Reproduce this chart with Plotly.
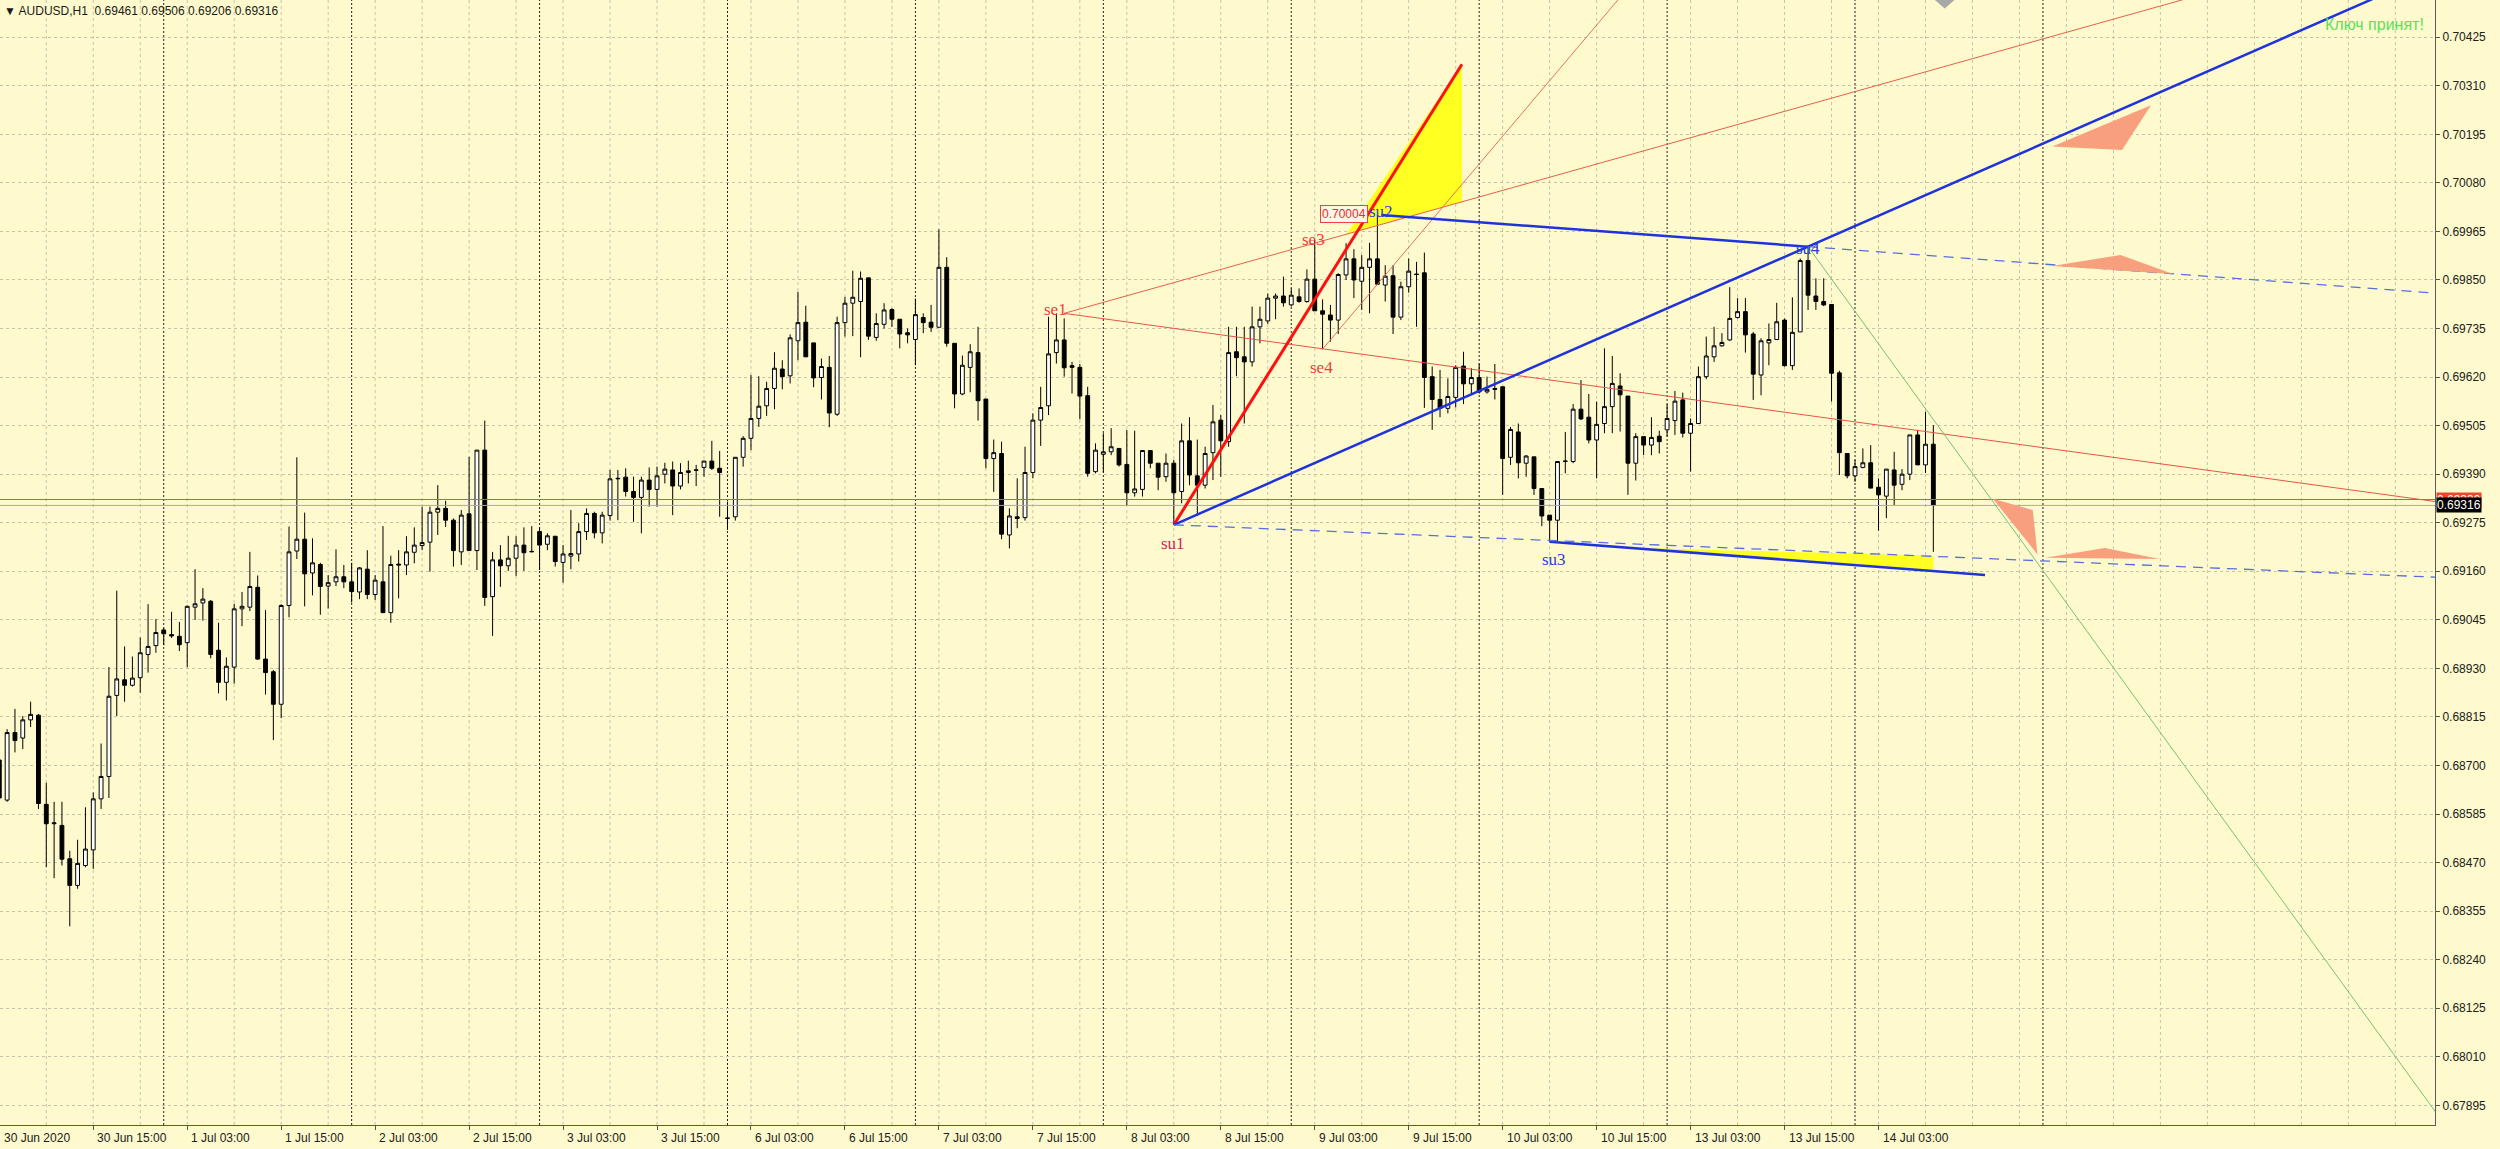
import plotly.graph_objects as go

# ---------------- data (AUDUSD H1, bar index 0 = 30 Jun 2020 03:00) ----------------
open_ = [
0.68713,0.68618,0.68778,0.68765,0.68808,0.68819,0.68608,0.68562,0.68558,0.68479,
0.68416,0.68463,0.68500,0.68621,0.68674,0.68866,0.68903,0.68890,0.68908,0.68963,
0.68984,0.69021,0.69010,0.69006,0.68991,0.69075,0.69085,0.69089,0.68973,0.68897,
0.68933,0.69071,0.69075,0.69122,0.68952,0.68922,0.68845,0.69079,0.69208,0.69236,
0.69156,0.69176,0.69125,0.69135,0.69147,0.69135,0.69111,0.69165,0.69105,0.69135,
0.69062,0.69177,0.69175,0.69205,0.69221,0.69229,0.69300,0.69309,0.69281,0.69206,
0.69296,0.69209,0.69447,0.69100,0.69187,0.69173,0.69191,0.69222,0.69206,0.69254,
0.69224,0.69243,0.69181,0.69196,0.69201,0.69254,0.69297,0.69251,0.69292,0.69379,
0.69383,0.69349,0.69335,0.69376,0.69354,0.69390,0.69400,0.69362,0.69394,0.69399,
0.69406,0.69421,0.69404,0.69285,0.69289,0.69430,0.69475,0.69522,0.69552,0.69593,
0.69639,0.69623,0.69706,0.69750,0.69701,0.69619,0.69643,0.69532,0.69749,0.69795,
0.69799,0.69855,0.69714,0.69745,0.69780,0.69757,0.69725,0.69709,0.69761,0.69750,
0.69738,0.69880,0.69700,0.69580,0.69643,0.69678,0.69568,0.69427,0.69439,0.69246,
0.69289,0.69287,0.69394,0.69518,0.69552,0.69678,0.69708,0.69647,0.69643,0.69576,
0.69396,0.69437,0.69443,0.69451,0.69413,0.69346,0.69354,0.69446,0.69416,0.69384,
0.69416,0.69349,0.69469,0.69386,0.69364,0.69441,0.69518,0.69467,0.69680,0.69668,
0.69656,0.69739,0.69753,0.69807,0.69812,0.69791,0.69810,0.69799,0.69852,0.69777,
0.69767,0.69755,0.69862,0.69900,0.69847,0.69880,0.69900,0.69838,0.69860,0.69762,
0.69834,0.69864,0.69867,0.69621,0.69567,0.69546,0.69572,0.69646,0.69604,0.69619,
0.69585,0.69593,0.69597,0.69430,0.69490,0.69416,0.69431,0.69356,0.69293,0.69281,
0.69420,0.69420,0.69544,0.69525,0.69471,0.69510,0.69550,0.69599,0.69575,0.69416,
0.69479,0.69459,0.69480,0.69495,0.69517,0.69566,0.69487,0.69510,0.69621,0.69668,
0.69694,0.69708,0.69761,0.69775,0.69722,0.69625,0.69701,0.69709,0.69755,0.69647,
0.69727,0.69896,0.69812,0.69799,0.69792,0.69630,0.69439,0.69386,0.69406,0.69417,
0.69359,0.69338,0.69400,0.69366,0.69390,0.69483,0.69412,0.69461]
high = [
0.68748,0.68786,0.68834,0.68817,0.68851,0.68822,0.68659,0.68614,0.68614,0.68498,
0.68524,0.68601,0.68636,0.68752,0.68933,0.69114,0.68982,0.68958,0.69003,0.69082,
0.69047,0.69026,0.69064,0.69040,0.69079,0.69165,0.69120,0.69092,0.69038,0.68956,
0.69083,0.69111,0.69206,0.69150,0.69068,0.68926,0.69082,0.69266,0.69430,0.69299,
0.69238,0.69180,0.69151,0.69212,0.69175,0.69180,0.69170,0.69210,0.69151,0.69267,
0.69197,0.69210,0.69243,0.69264,0.69313,0.69313,0.69364,0.69327,0.69285,0.69305,
0.69431,0.69447,0.69517,0.69206,0.69222,0.69244,0.69243,0.69264,0.69267,0.69264,
0.69250,0.69243,0.69222,0.69305,0.69274,0.69309,0.69301,0.69301,0.69400,0.69400,
0.69404,0.69384,0.69384,0.69406,0.69408,0.69417,0.69420,0.69416,0.69422,0.69412,
0.69422,0.69469,0.69445,0.69325,0.69430,0.69480,0.69625,0.69622,0.69609,0.69679,
0.69660,0.69721,0.69822,0.69789,0.69701,0.69664,0.69670,0.69763,0.69810,0.69872,
0.69870,0.69855,0.69771,0.69795,0.69783,0.69757,0.69735,0.69806,0.69771,0.69791,
0.69970,0.69904,0.69700,0.69671,0.69698,0.69739,0.69568,0.69472,0.69467,0.69309,
0.69380,0.69455,0.69534,0.69597,0.69763,0.69771,0.69759,0.69656,0.69651,0.69597,
0.69463,0.69487,0.69499,0.69451,0.69495,0.69493,0.69447,0.69447,0.69416,0.69439,
0.69424,0.69510,0.69525,0.69472,0.69455,0.69554,0.69530,0.69739,0.69739,0.69739,
0.69787,0.69787,0.69818,0.69818,0.69858,0.69830,0.69830,0.69875,0.69945,0.69804,
0.69791,0.69866,0.69937,0.69923,0.69909,0.69938,0.70004,0.69885,0.69885,0.69846,
0.69901,0.69893,0.69915,0.69645,0.69637,0.69617,0.69648,0.69680,0.69641,0.69652,
0.69621,0.69651,0.69597,0.69502,0.69510,0.69435,0.69431,0.69356,0.69293,0.69420,
0.69490,0.69556,0.69613,0.69580,0.69562,0.69688,0.69670,0.69629,0.69575,0.69487,
0.69479,0.69525,0.69493,0.69556,0.69587,0.69583,0.69522,0.69645,0.69716,0.69739,
0.69724,0.69833,0.69807,0.69807,0.69727,0.69712,0.69747,0.69796,0.69759,0.69809,
0.69901,0.69929,0.69854,0.69854,0.69792,0.69635,0.69439,0.69424,0.69451,0.69459,
0.69380,0.69402,0.69443,0.69402,0.69483,0.69495,0.69538,0.69506]
low = [
0.68606,0.68614,0.68731,0.68739,0.68791,0.68597,0.68459,0.68433,0.68463,0.68319,
0.68408,0.68459,0.68455,0.68597,0.68623,0.68817,0.68851,0.68887,0.68872,0.68920,
0.68967,0.68985,0.69002,0.68971,0.68933,0.69045,0.69043,0.68954,0.68871,0.68854,
0.68894,0.69030,0.69066,0.68950,0.68868,0.68760,0.68812,0.69051,0.69189,0.69077,
0.69103,0.69057,0.69072,0.69125,0.69120,0.69086,0.69094,0.69094,0.69092,0.69062,
0.69038,0.69096,0.69151,0.69179,0.69210,0.69159,0.69246,0.69265,0.69171,0.69175,
0.69209,0.69163,0.69078,0.69007,0.69123,0.69161,0.69149,0.69161,0.69205,0.69163,
0.69210,0.69171,0.69133,0.69165,0.69183,0.69234,0.69238,0.69226,0.69280,0.69281,
0.69337,0.69277,0.69250,0.69313,0.69313,0.69368,0.69293,0.69354,0.69368,0.69362,
0.69384,0.69400,0.69289,0.69258,0.69280,0.69408,0.69447,0.69502,0.69528,0.69544,
0.69591,0.69605,0.69660,0.69668,0.69596,0.69567,0.69501,0.69528,0.69716,0.69717,
0.69667,0.69708,0.69706,0.69735,0.69739,0.69688,0.69700,0.69648,0.69724,0.69727,
0.69738,0.69692,0.69546,0.69577,0.69584,0.69517,0.69404,0.69348,0.69236,0.69214,
0.69262,0.69280,0.69380,0.69457,0.69530,0.69652,0.69621,0.69581,0.69520,0.69384,
0.69392,0.69394,0.69435,0.69408,0.69317,0.69337,0.69337,0.69404,0.69352,0.69372,
0.69270,0.69321,0.69364,0.69291,0.69356,0.69376,0.69384,0.69455,0.69622,0.69510,
0.69645,0.69700,0.69746,0.69757,0.69787,0.69787,0.69796,0.69796,0.69777,0.69686,
0.69704,0.69722,0.69850,0.69807,0.69779,0.69771,0.69840,0.69799,0.69722,0.69755,
0.69820,0.69739,0.69547,0.69495,0.69525,0.69534,0.69548,0.69556,0.69580,0.69581,
0.69581,0.69567,0.69341,0.69412,0.69380,0.69384,0.69341,0.69267,0.69230,0.69230,
0.69392,0.69416,0.69518,0.69463,0.69380,0.69487,0.69487,0.69491,0.69341,0.69375,
0.69435,0.69435,0.69439,0.69479,0.69483,0.69477,0.69396,0.69510,0.69615,0.69656,
0.69692,0.69706,0.69759,0.69678,0.69566,0.69577,0.69648,0.69708,0.69645,0.69637,
0.69727,0.69779,0.69779,0.69788,0.69562,0.69388,0.69380,0.69372,0.69404,0.69357,
0.69256,0.69286,0.69317,0.69352,0.69376,0.69412,0.69393,0.69206]
close = [
0.68623,0.68778,0.68759,0.68808,0.68821,0.68610,0.68562,0.68564,0.68478,0.68416,
0.68468,0.68502,0.68621,0.68674,0.68864,0.68905,0.68890,0.68907,0.68967,0.68982,
0.69015,0.69012,0.69007,0.68986,0.69077,0.69083,0.69094,0.68963,0.68897,0.68935,
0.69071,0.69077,0.69124,0.68952,0.68920,0.68845,0.69079,0.69206,0.69236,0.69154,
0.69180,0.69124,0.69133,0.69147,0.69135,0.69112,0.69168,0.69105,0.69139,0.69062,
0.69176,0.69175,0.69206,0.69222,0.69228,0.69300,0.69309,0.69281,0.69209,0.69293,
0.69209,0.69447,0.69098,0.69187,0.69173,0.69191,0.69222,0.69204,0.69207,0.69222,
0.69244,0.69183,0.69201,0.69202,0.69254,0.69297,0.69251,0.69293,0.69379,0.69380,
0.69349,0.69335,0.69376,0.69354,0.69386,0.69402,0.69362,0.69394,0.69398,0.69400,
0.69421,0.69404,0.69394,0.69286,0.69430,0.69475,0.69522,0.69551,0.69593,0.69641,
0.69621,0.69713,0.69749,0.69668,0.69618,0.69645,0.69535,0.69749,0.69795,0.69809,
0.69854,0.69717,0.69747,0.69779,0.69757,0.69722,0.69720,0.69768,0.69749,0.69738,
0.69880,0.69700,0.69580,0.69648,0.69680,0.69564,0.69427,0.69441,0.69248,0.69291,
0.69285,0.69394,0.69518,0.69548,0.69675,0.69708,0.69642,0.69643,0.69575,0.69392,
0.69447,0.69443,0.69455,0.69412,0.69346,0.69355,0.69446,0.69416,0.69383,0.69416,
0.69346,0.69469,0.69388,0.69364,0.69439,0.69514,0.69469,0.69678,0.69666,0.69656,
0.69739,0.69757,0.69807,0.69812,0.69796,0.69814,0.69799,0.69852,0.69777,0.69769,
0.69755,0.69863,0.69900,0.69850,0.69880,0.69900,0.69840,0.69859,0.69762,0.69834,
0.69871,0.69863,0.69619,0.69567,0.69546,0.69574,0.69643,0.69604,0.69619,0.69585,
0.69591,0.69591,0.69427,0.69496,0.69417,0.69433,0.69356,0.69291,0.69281,0.69420,
0.69421,0.69544,0.69521,0.69471,0.69508,0.69550,0.69605,0.69578,0.69416,0.69479,
0.69459,0.69477,0.69467,0.69522,0.69563,0.69487,0.69510,0.69621,0.69670,0.69694,
0.69702,0.69759,0.69775,0.69720,0.69627,0.69706,0.69709,0.69751,0.69647,0.69726,
0.69896,0.69814,0.69799,0.69791,0.69629,0.69441,0.69386,0.69408,0.69417,0.69357,
0.69341,0.69402,0.69364,0.69390,0.69483,0.69412,0.69461,0.69316]
bar_index = list(range(len(close)))

time_tick_pos = [0, 12, 24, 36, 48, 60, 72, 84, 96, 108, 120, 132, 144, 156, 168, 180, 192, 204, 216, 228, 240]
time_tick_text = ["30 Jun 2020", "30 Jun 15:00", "1 Jul 03:00", "1 Jul 15:00", "2 Jul 03:00", "2 Jul 15:00",
                  "3 Jul 03:00", "3 Jul 15:00", "6 Jul 03:00", "6 Jul 15:00", "7 Jul 03:00", "7 Jul 15:00",
                  "8 Jul 03:00", "8 Jul 15:00", "9 Jul 03:00", "9 Jul 15:00", "10 Jul 03:00", "10 Jul 15:00",
                  "13 Jul 03:00", "13 Jul 15:00", "14 Jul 03:00"]
day_separators = [21, 45, 69, 93, 117, 141, 165, 189, 213, 237, 261]
price_ticks = [0.67895, 0.68010, 0.68125, 0.68240, 0.68355, 0.68470, 0.68585, 0.68700, 0.68815, 0.68930,
               0.69045, 0.69160, 0.69275, 0.69390, 0.69505, 0.69620, 0.69735, 0.69850, 0.69965, 0.70080,
               0.70195, 0.70310, 0.70425]
bid_price = 0.69316
ask_price = 0.69330

# analysis objects: anchor points (bar index, price)
se1 = (136, 0.69771)
se1_up_p2 = (196, 0.70083)
se1_dn_p2 = (311.6, 0.69324)
se4 = (168.9, 0.69684)
se4_up_p2 = (206.7, 0.70513)
su1 = (150, 0.69270)
su1_red_top = (186.8, 0.70361)
su2 = (176.5, 0.70004)
su3 = (198, 0.69230)
su3_end = (253.6, 0.69151)
su4 = (231, 0.69929)
su1_dash_end = (311.1, 0.69146)
green_end = (311.5, 0.67870)
yellow_tri_top = [(172.0, 0.69958), (186.8, 0.70361), (186.8, 0.70035)]
yellow_tri_low = [(210, 0.69215), (247, 0.69197), (247, 0.69162)]
salmon_tris = [
    [(262.2, 0.70166), (274.8, 0.70264), (271.1, 0.70158)],
    [(262.2, 0.69883), (270.9, 0.69909), (277.6, 0.69864)],
    [(254.6, 0.69332), (259.7, 0.69305), (260.3, 0.69200)],
    [(261.3, 0.69192), (268.9, 0.69215), (275.9, 0.69189)],
]
gray_marker = [(247.2, 0.70513), (249.7, 0.70513), (248.45, 0.70493)]
labels = [  # text, bar index, price, colour
    ("se1", 134.9, 0.69780, "#f03a3a"),
    ("se3", 167.8, 0.69945, "#f03a3a"),
    ("se4", 168.8, 0.69643, "#f03a3a"),
    ("su1", 149.9, 0.69225, "#d0245a"),
    ("su2", 176.4, 0.70012, "#2b3fd8"),
    ("su3", 198.6, 0.69187, "#2b3fd8"),
    ("su4", 231.0, 0.69925, "#2b3fd8"),
]
price_box = ("0.70004", 171.7, 0.70007)
key_msg = ("Ключ принят!", 296.8, 0.70454)

X_RANGE = [0.09, 311.07]
Y_RANGE = [0.678484, 0.705132]
BG = "#FFFACD"
GRID = "#c6c2ae"

def ray(p1, p2, x_end):
    s = (p2[1] - p1[1]) / (p2[0] - p1[0])
    return [p1[0], x_end], [p1[1], p1[1] + s * (x_end - p1[0])]

fig = go.Figure()
fig.add_trace(go.Candlestick(
    x=bar_index, open=open_, high=high, low=low, close=close,
    increasing=dict(line=dict(color="black", width=1), fillcolor="white"),
    decreasing=dict(line=dict(color="black", width=1), fillcolor="black"),
    whiskerwidth=0, hoverinfo="skip", showlegend=False))

def add_line(xs, ys, color, width, dash="solid"):
    fig.add_trace(go.Scatter(x=xs, y=ys, mode="lines", hoverinfo="skip", showlegend=False,
                             line=dict(color=color, width=width, dash=dash)))

XR = X_RANGE[1] + 1
# bid / ask lines
add_line([X_RANGE[0] - 1, XR], [ask_price, ask_price], "#e0553f", 1)
add_line([X_RANGE[0] - 1, XR], [bid_price, bid_price], "#a9a9a9", 1)
# se1 fan
xs, ys = ray(se1, se1_up_p2, XR); add_line(xs, ys, "#e4604e", 1)
xs, ys = ray(se1, se1_dn_p2, XR); add_line(xs, ys, "#e4544a", 1)
xs, ys = ray(se4, se4_up_p2, 212); add_line(xs, ys, "#e8705e", 1)
# thick red su1
add_line([su1[0], su1_red_top[0]], [su1[1], su1_red_top[1]], "#ff1010", 3)
# blue channel
xs, ys = ray(su1, su4, 320); add_line(xs, ys, "#1f33dc", 2.5)
add_line([su2[0], su4[0]], [su2[1], su4[1]], "#1f33dc", 2.5)
xs, ys = ray(su2, su4, XR); add_line([su4[0], xs[1]], [su4[1], ys[1]], "#5670e0", 1.3, "10px,7px")
add_line([su3[0], su3_end[0]], [su3[1], su3_end[1]], "#1f33dc", 2.5)
add_line([su1[0], su1_dash_end[0]], [su1[1], su1_dash_end[1]], "#5670e0", 1.3, "10px,7px")
# green
add_line([su4[0], green_end[0]], [su4[1], green_end[1]], "#78c078", 1)

shapes = []
for k in range(0, 312, 6):
    shapes.append(dict(type="line", xref="x", yref="paper", x0=k, x1=k, y0=0, y1=1, layer="below",
                       line=dict(color=GRID, width=1, dash="3px,3px")))
for s in day_separators:
    shapes.append(dict(type="line", xref="x", yref="paper", x0=s, x1=s, y0=0, y1=1, layer="between",
                       line=dict(color="#222222", width=1, dash="2px,2px")))

def tri_path(pts):
    return "M " + " L ".join(f"{x},{y}" for x, y in pts) + " Z"

for tri in (yellow_tri_top, yellow_tri_low):
    shapes.append(dict(type="path", xref="x", yref="y", path=tri_path(tri), layer="between",
                       fillcolor="#ffff22", line=dict(width=0)))
for tri in salmon_tris:
    shapes.append(dict(type="path", xref="x", yref="y", path=tri_path(tri), layer="above",
                       fillcolor="#f8a07e", line=dict(width=0)))
shapes.append(dict(type="path", xref="x", yref="y", path=tri_path(gray_marker), layer="above",
                   fillcolor="#a8a8a8", line=dict(width=0)))

annotations = []
for pos, txt in zip(time_tick_pos, time_tick_text):
    annotations.append(dict(x=max(pos, X_RANGE[0] + 0.01), y=0, xref="x", yref="paper", text=txt,
                            showarrow=False, xanchor="left", yanchor="top", xshift=2, yshift=-4,
                            font=dict(family="Liberation Sans", size=12, color="#202020")))
for txt, xi, pr, col in labels:
    annotations.append(dict(x=xi, y=pr, xref="x", yref="y", text=txt, showarrow=False,
                            xanchor="center", yanchor="middle",
                            font=dict(family="Liberation Serif", size=17, color=col)))
annotations.append(dict(x=price_box[1], y=price_box[2], xref="x", yref="y", text=price_box[0],
                        showarrow=False, bgcolor="#fff6e8", bordercolor="#f04040", borderwidth=1,
                        borderpad=1, font=dict(family="Liberation Sans", size=12, color="#e03030")))
annotations.append(dict(x=key_msg[1], y=key_msg[2], xref="x", yref="y", text=key_msg[0],
                        showarrow=False, xanchor="left", yanchor="middle",
                        font=dict(family="Liberation Sans", size=16, color="#5ae05a")))
annotations.append(dict(x=0, y=1, xref="paper", yref="paper", xanchor="left", yanchor="top",
                        xshift=2, yshift=-2, showarrow=False,
                        text="▼ AUDUSD,H1  0.69461 0.69506 0.69206 0.69316",
                        font=dict(family="Liberation Sans", size=12, color="#1a1a1a")))
annotations.append(dict(x=1, y=ask_price, xref="paper", yref="y", xanchor="left", yanchor="middle",
                        xshift=1, showarrow=False, text=f"{ask_price:.5f}", bgcolor="#f0452f",
                        borderpad=0, font=dict(family="Liberation Sans", size=12, color="white")))
annotations.append(dict(x=1, y=bid_price, xref="paper", yref="y", xanchor="left", yanchor="middle",
                        xshift=1, showarrow=False, text=f"{bid_price:.5f}", bgcolor="black",
                        borderpad=0, font=dict(family="Liberation Sans", size=12, color="white")))

fig.update_layout(
    width=2500, height=1149,
    margin=dict(l=0, r=65, t=0, b=24, pad=0),
    paper_bgcolor=BG, plot_bgcolor=BG, showlegend=False,
    font=dict(family="Liberation Sans", size=12, color="#202020"),
    shapes=shapes, annotations=annotations,
    xaxis=dict(range=X_RANGE, type="linear", tickmode="array", tickvals=time_tick_pos,
               showticklabels=False, ticks="outside", ticklen=4, tickcolor="#555555",
               showgrid=False, zeroline=False, showline=True, linecolor="#5a5a5a", linewidth=1,
               rangeslider=dict(visible=False), fixedrange=True),
    yaxis=dict(range=Y_RANGE, side="right", tickmode="array", tickvals=price_ticks,
               ticktext=[f"{v:.5f}" for v in price_ticks], ticks="outside", ticklen=4,
               tickcolor="#555555", showgrid=True, gridcolor=GRID, griddash="3px,3px", gridwidth=1,
               zeroline=False, showline=True, linecolor="#5a5a5a", linewidth=1, fixedrange=True,
               tickfont=dict(family="Liberation Sans", size=12, color="#202020")),
)

fig.write_html("out.html", config={"displayModeBar": False},
               post_script="document.body.style.margin='0';document.body.style.overflow='hidden';")
